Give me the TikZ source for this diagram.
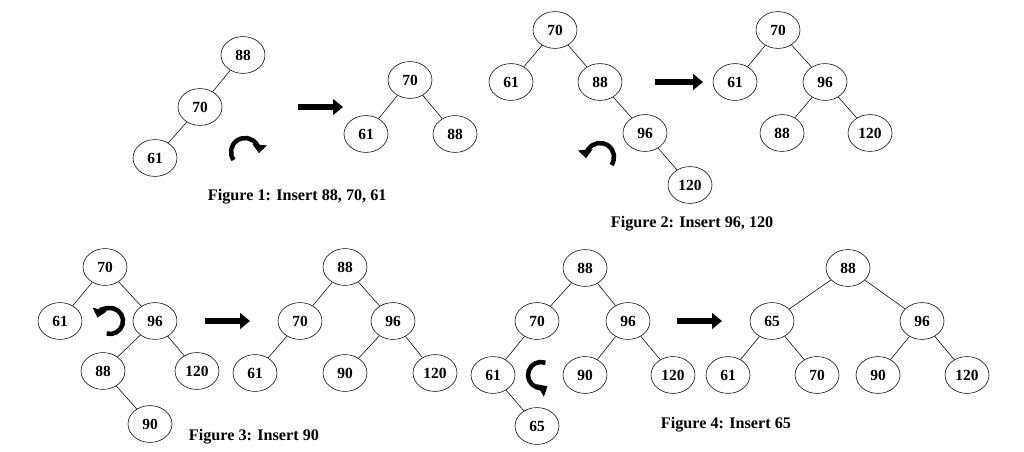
\documentclass[tikz,border=0pt]{standalone}
\usepackage{fontspec}
\setmainfont{Liberation Serif}
\usetikzlibrary{shapes.geometric,arrows.meta}
\tikzset{
  knoop/.style={ellipse, draw, thin, minimum width=1.1cm, minimum height=0.92cm, inner sep=0pt, font=\bfseries\fontsize{11}{12}\selectfont},
  pijl/.style={-{Triangle[length=7pt,width=11pt]}, line width=4pt},
  draai/.style={-{Triangle[length=6pt,width=10pt]}, line width=3.2pt},
  bijschrift/.style={font=\bfseries\fontsize{11.5}{13}\selectfont, anchor=west}
}
\begin{document}
\begin{tikzpicture}[x=0.025cm, y=-0.025cm]
    \useasboundingbox (0,0) rectangle (1024,452);

    % figuur 1
    \node[knoop] (a88) at (243,55) {88};
    \node[knoop] (a70) at (200,107) {70};
    \node[knoop] (a61) at (155,158) {61};
    \draw (a88) -- (a70) -- (a61);
    \draw[draai] (245,152) ++(-215:14) arc (-215:5:14);
    \coordinate (p1) at (298,107); \coordinate (q1) at (343,107);
    \draw[pijl] (p1) -- (q1);
    \node[knoop] (b70) at (410,80) {70};
    \node[knoop] (b61) at (366,134) {61};
    \node[knoop] (b88) at (455,134) {88};
    \draw (b70) -- (b61); \draw (b70) -- (b88);
    \node[bijschrift] at (203,197) {Figure 1: Insert 88, 70, 61};

    % figuur 2
    \node[knoop] (c70) at (555,30) {70};
    \node[knoop] (c61) at (511,82) {61};
    \node[knoop] (c88) at (600,82) {88};
    \node[knoop] (c96) at (645,133) {96};
    \node[knoop] (c120) at (690,185) {120};
    \draw (c70) -- (c61); \draw (c70) -- (c88) -- (c96) -- (c120);
    \draw[draai] (600,157) ++(35:14) arc (35:-185:14);
    \coordinate (p2) at (655,82); \coordinate (q2) at (703,82);
    \draw[pijl] (p2) -- (q2);
    \node[knoop] (d70) at (778,30) {70};
    \node[knoop] (d61) at (735,82) {61};
    \node[knoop] (d96) at (825,82) {96};
    \node[knoop] (d88) at (782,133) {88};
    \node[knoop] (d120) at (870,133) {120};
    \draw (d70) -- (d61); \draw (d70) -- (d96);
    \draw (d96) -- (d88); \draw (d96) -- (d120);
    \node[bijschrift] at (606,224) {Figure 2: Insert 96, 120};

    % figuur 3
    \node[knoop] (e70) at (105,267) {70};
    \node[knoop] (e61) at (60,321) {61};
    \node[knoop] (e96) at (155,321) {96};
    \node[knoop] (e88) at (103,371) {88};
    \node[knoop] (e120) at (197,371) {120};
    \node[knoop] (e90) at (150,424) {90};
    \draw (e70) -- (e61); \draw (e70) -- (e96);
    \draw (e96) -- (e88) -- (e90); \draw (e96) -- (e120);
    \draw[draai] (110,321) ++(105:13) arc (105:-165:13);
    \coordinate (p3) at (205,321); \coordinate (q3) at (250,321);
    \draw[pijl] (p3) -- (q3);
    \node[knoop] (f88) at (345,267) {88};
    \node[knoop] (f70) at (300,321) {70};
    \node[knoop] (f96) at (393,321) {96};
    \node[knoop] (f61) at (255,373) {61};
    \node[knoop] (f90) at (345,373) {90};
    \node[knoop] (f120) at (435,373) {120};
    \draw (f88) -- (f70) -- (f61); \draw (f88) -- (f96);
    \draw (f96) -- (f90); \draw (f96) -- (f120);
    \node[bijschrift] at (184,437) {Figure 3: Insert 90};

    % figuur 4
    \node[knoop] (g88) at (585,268) {88};
    \node[knoop] (g70) at (537,321) {70};
    \node[knoop] (g96) at (628,321) {96};
    \node[knoop] (g61) at (493,375) {61};
    \node[knoop] (g90) at (585,375) {90};
    \node[knoop] (g120) at (673,375) {120};
    \node[knoop] (g65) at (537,426) {65};
    \draw (g88) -- (g70) -- (g61) -- (g65); \draw (g88) -- (g96);
    \draw (g96) -- (g90); \draw (g96) -- (g120);
    \draw[draai] (541,375) ++(-70:13) arc (-70:-300:13);
    \coordinate (p4) at (677,321); \coordinate (q4) at (722,321);
    \draw[pijl] (p4) -- (q4);
    \node[knoop] (h88) at (848,268) {88};
    \node[knoop] (h65) at (772,321) {65};
    \node[knoop] (h96) at (922,321) {96};
    \node[knoop] (h61) at (728,375) {61};
    \node[knoop] (h70) at (817,375) {70};
    \node[knoop] (h90) at (878,375) {90};
    \node[knoop] (h120) at (967,375) {120};
    \draw (h88) -- (h65); \draw (h88) -- (h96);
    \draw (h65) -- (h61); \draw (h65) -- (h70);
    \draw (h96) -- (h90); \draw (h96) -- (h120);
    \node[bijschrift] at (656,425) {Figure 4: Insert 65};
\end{tikzpicture}
\end{document}
